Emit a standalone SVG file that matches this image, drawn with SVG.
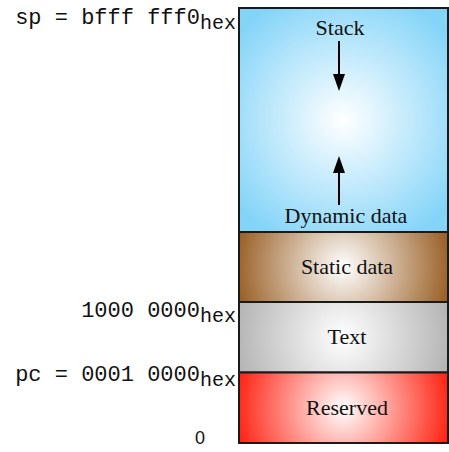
<svg xmlns="http://www.w3.org/2000/svg" width="449" height="452" viewBox="0 0 449 452">
<defs>
<style>
.mono{font-family:"Liberation Mono","Courier New",monospace;font-size:22px;fill:#111}
.sub{font-size:20px}
.lbl{font-family:"Liberation Serif","Times New Roman",serif;font-size:22px;fill:#111;text-anchor:middle}
.sec{stroke:#1a1a1a;stroke-width:2}
.arr{stroke:#000;stroke-width:2;fill:none}
</style>
<radialGradient id="gStack" gradientUnits="userSpaceOnUse" cx="343" cy="120" r="135">
<stop offset="0" stop-color="#ffffff"/><stop offset="1" stop-color="#84d4f8"/>
</radialGradient>
<radialGradient id="gStatic" gradientUnits="userSpaceOnUse" cx="343" cy="267" r="108">
<stop offset="0" stop-color="#ffffff"/><stop offset="1" stop-color="#9a6026"/>
</radialGradient>
<radialGradient id="gText" gradientUnits="userSpaceOnUse" cx="343" cy="337" r="108">
<stop offset="0" stop-color="#ffffff"/><stop offset="1" stop-color="#b4b4b4"/>
</radialGradient>
<radialGradient id="gRes" gradientUnits="userSpaceOnUse" cx="343" cy="408" r="108">
<stop offset="0" stop-color="#ffffff"/><stop offset="1" stop-color="#ff2414"/>
</radialGradient>
</defs>
<rect width="449" height="452" fill="#ffffff"/>
<g id="stack">
<rect class="sec" x="239" y="8" width="209" height="224" fill="url(#gStack)"/>
<text class="lbl" x="340" y="35">Stack</text>
<text class="lbl" x="346" y="223">Dynamic data</text>
</g>
<g id="static-data">
<rect class="sec" x="239" y="232" width="209" height="70" fill="url(#gStatic)"/>
<text class="lbl" x="347" y="274">Static data</text>
</g>
<g id="text">
<rect class="sec" x="239" y="302" width="209" height="70.5" fill="url(#gText)"/>
<text class="lbl" x="347" y="344">Text</text>
</g>
<g id="reserved">
<rect class="sec" x="239" y="372.5" width="209" height="70.5" fill="url(#gRes)"/>
<text class="lbl" x="347" y="415">Reserved</text>
</g>
<g id="connectors">
<path d="M339,41 V74" class="arr"/>
<path d="M333,74 L345,74 L339,91 Z" fill="#000"/>
<path d="M339,205 V173" class="arr"/>
<path d="M333,173 L345,173 L339,156 Z" fill="#000"/>
</g>
<g id="addresses">
<text class="mono" x="236" y="24" text-anchor="end">sp = bfff fff0<tspan class="sub" dy="5">hex</tspan></text>
<text class="mono" x="236" y="317" text-anchor="end">1000 0000<tspan class="sub" dy="5">hex</tspan></text>
<text class="mono" x="236" y="381" text-anchor="end">pc = 0001 0000<tspan class="sub" dy="5">hex</tspan></text>
<text x="205" y="444" text-anchor="end" font-family="Liberation Sans, Arial, sans-serif" font-size="18" fill="#111">0</text>
</g>
</svg>
